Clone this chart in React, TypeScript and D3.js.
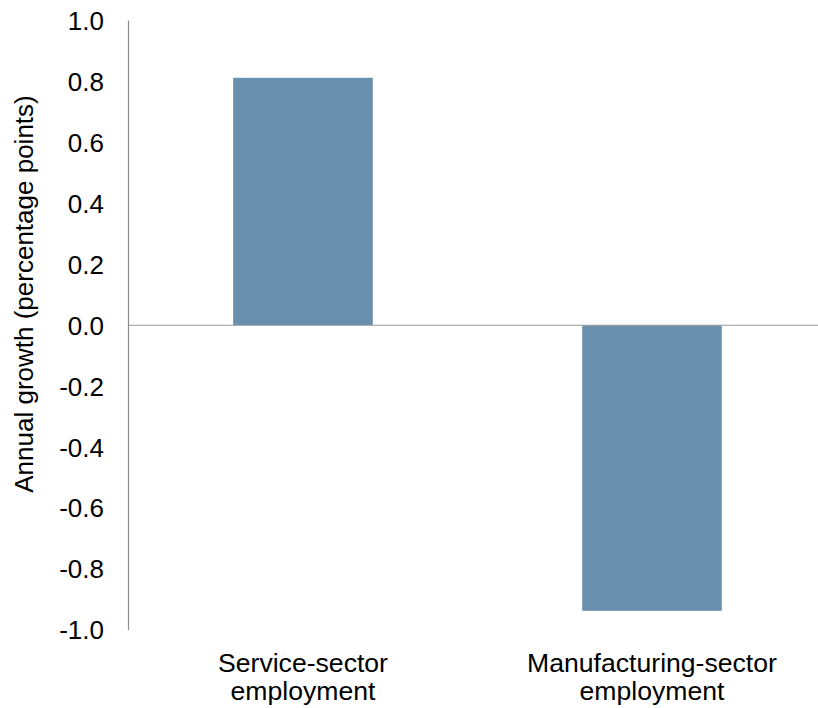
import React from "react";
import * as d3 from "d3";

const categories: string[][] = [
  ["Service-sector", "employment"],
  ["Manufacturing-sector", "employment"],
];
const values: number[] = [0.812, -0.937];
const yTicks: number[] = [1.0, 0.8, 0.6, 0.4, 0.2, 0.0, -0.2, -0.4, -0.6, -0.8, -1.0];
const yLabel = "Annual growth (percentage points)";

const W = 818;
const H = 708;
const FONT = "'Liberation Sans', Arial, sans-serif";

export default function App() {
  const left = 128.5;
  const y = d3.scaleLinear().domain([-1, 1]).range([630, 20.5]);
  const x = d3
    .scaleBand<number>()
    .domain(categories.map((_, i) => i))
    .range([left, 826.5])
    .paddingInner(0.6)
    .paddingOuter(0.3);
  // plain hyphen for negatives
  const fmt = (t: number) => d3.format(".1f")(t).replace("\u2212", "-");

  return (
    <svg
      width={W}
      height={H}
      style={{ position: "absolute", left: 0, top: 0, background: "#fff" }}
      fontFamily={FONT}
    >
      {/* bars */}
      {values.map((v, i) => (
        <rect
          key={i}
          x={x(i)}
          width={x.bandwidth()}
          y={y(Math.max(0, v))}
          height={Math.abs(y(v) - y(0))}
          fill="#688fad"
        />
      ))}
      {/* zero baseline */}
      <line x1={left} x2={W} y1={y(0)} y2={y(0)} stroke="#9a9a9a" strokeWidth={1.2} />
      {/* y axis */}
      <line x1={left} x2={left} y1={y(1)} y2={y(-1)} stroke="#8c8c8c" strokeWidth={1.2} />
      {yTicks.map((t) => (
        <text
          key={t}
          x={104}
          y={y(t)}
          dy="0.36em"
          textAnchor="end"
          fontSize={26}
          fill="#000"
        >
          {fmt(t)}
        </text>
      ))}
      {/* category labels */}
      {categories.map((lines, i) => (
        <text
          key={i}
          x={(x(i) as number) + x.bandwidth() / 2}
          y={672}
          textAnchor="middle"
          fontSize={26.6}
          fill="#000"
        >
          {lines.map((l, j) => (
            <tspan key={j} x={(x(i) as number) + x.bandwidth() / 2} dy={j === 0 ? 0 : 28}>
              {l}
            </tspan>
          ))}
        </text>
      ))}
      {/* y axis title */}
      <text
        transform={`translate(33, ${294}) rotate(-90)`}
        textAnchor="middle"
        fontSize={26}
        fill="#000"
      >
        {yLabel}
      </text>
    </svg>
  );
}
